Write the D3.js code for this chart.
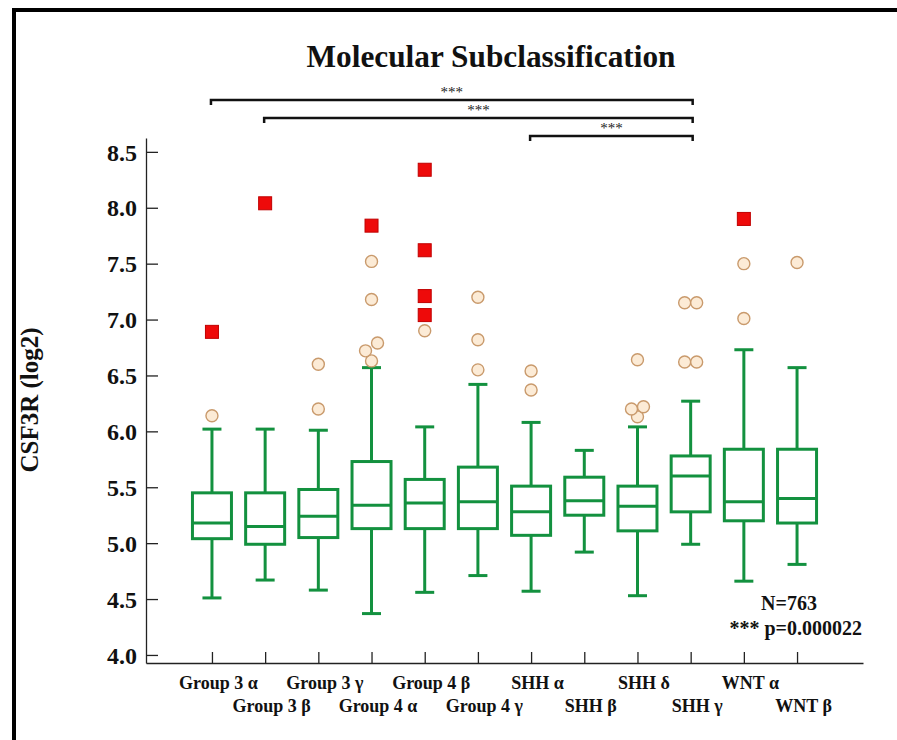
<!DOCTYPE html>
<html lang="en">
<head>
<meta charset="utf-8">
<title>CSF3R by molecular subclassification</title>
<script src="https://d3js.org/d3.v7.min.js"></script>
<style>
  body { margin: 0; background: #fff; }
  svg text { font-family: "Liberation Serif", "Times New Roman", serif; font-weight: bold; }
</style>
</head>
<body>
<svg width="897" height="740"></svg>
<script>
// categories and box statistics
const categories = ["Group 3 α", "Group 3 β", "Group 3 γ", "Group 4 α", "Group 4 β", "Group 4 γ",
                    "SHH α", "SHH β", "SHH δ", "SHH γ", "WNT α", "WNT β"];
const whiskerLow  = [4.51, 4.67, 4.58, 4.37, 4.56, 4.71, 4.57, 4.92, 4.53, 4.99, 4.66, 4.81];
const q1          = [5.04, 4.99, 5.05, 5.13, 5.13, 5.13, 5.07, 5.25, 5.11, 5.28, 5.20, 5.18];
const median      = [5.18, 5.15, 5.24, 5.34, 5.36, 5.37, 5.28, 5.38, 5.33, 5.60, 5.37, 5.40];
const q3          = [5.45, 5.45, 5.48, 5.73, 5.57, 5.68, 5.51, 5.59, 5.51, 5.78, 5.84, 5.84];
const whiskerHigh = [6.02, 6.02, 6.01, 6.57, 6.04, 6.42, 6.08, 5.83, 6.04, 6.27, 6.73, 6.57];
// open circles (outliers) and red squares (far outliers)
const outliers = [[6.14], [], [6.20, 6.60], [6.63, 6.72, 6.79, 7.18, 7.52], [6.90], [6.55, 6.82, 7.20],
                  [6.37, 6.54], [], [6.13, 6.20, 6.22, 6.64], [6.62, 6.62, 7.15, 7.15], [7.01, 7.50], [7.51]];
const extremes = [[6.89], [8.04], [], [7.84], [7.04, 7.21, 7.62, 8.34], [], [], [], [], [], [7.90], []];
const yTicks = [4.0, 4.5, 5.0, 5.5, 6.0, 6.5, 7.0, 7.5, 8.0, 8.5];
const comparisons = [["Group 3 α", "SHH γ"], ["Group 3 β", "SHH γ"], ["SHH α", "SHH γ"]];
const sigLabel = "***";

const svg = d3.select("svg");
const green = "#13913f";

// frame (top and left edges only, as in the scan)
svg.append("rect").attr("x", 12).attr("y", 8).attr("width", 885).attr("height", 4).attr("fill", "#000");
svg.append("rect").attr("x", 12).attr("y", 8).attr("width", 4).attr("height", 732).attr("fill", "#000");

const x = d3.scalePoint().domain(categories).range([146, 863]).padding(1.24);
const y = d3.scaleLinear().domain([3.928, 8.624]).range([663, 138]);

// axes
const yAxis = svg.append("g")
  .attr("transform", "translate(146,0)")
  .call(d3.axisLeft(y).tickValues(yTicks).tickFormat(d3.format(".1f"))
        .tickSizeInner(-12).tickSizeOuter(0).tickPadding(9));
yAxis.selectAll("text").style("font-size", "24px").attr("fill", "#111").attr("dy", "0.34em");

const xAxis = svg.append("g")
  .attr("transform", "translate(0,663)")
  .call(d3.axisBottom(x).tickSizeInner(-11).tickSizeOuter(0).tickPadding(0));
xAxis.selectAll("text")
  .style("font-size", "18px").attr("fill", "#111")
  .attr("dx", 6)
  .attr("dy", 0)
  .attr("y", (d, i) => i % 2 === 0 ? 26 : 49);
svg.selectAll(".domain, .tick line").attr("stroke", "#222").attr("stroke-width", 1.3);

// title and axis label
svg.append("text").attr("x", 491).attr("y", 67).attr("text-anchor", "middle")
  .attr("textLength", 369).attr("lengthAdjust", "spacingAndGlyphs")
  .style("font-size", "31px").attr("fill", "#111").text("Molecular Subclassification");
svg.append("text").attr("transform", "translate(38,400) rotate(-90)").attr("text-anchor", "middle")
  .style("font-size", "25px").attr("fill", "#111").text("CSF3R (log2)");

// boxes
const boxW = 39, capW = 19;
const boxes = svg.append("g").attr("stroke", green).attr("stroke-width", 3).attr("fill", "none");
categories.forEach((c, i) => {
  const cx = x(c);
  boxes.append("line").attr("x1", cx).attr("x2", cx).attr("y1", y(whiskerHigh[i])).attr("y2", y(q3[i]));
  boxes.append("line").attr("x1", cx).attr("x2", cx).attr("y1", y(q1[i])).attr("y2", y(whiskerLow[i]));
  boxes.append("line").attr("x1", cx - capW / 2).attr("x2", cx + capW / 2).attr("y1", y(whiskerHigh[i])).attr("y2", y(whiskerHigh[i]));
  boxes.append("line").attr("x1", cx - capW / 2).attr("x2", cx + capW / 2).attr("y1", y(whiskerLow[i])).attr("y2", y(whiskerLow[i]));
  boxes.append("rect").attr("x", cx - boxW / 2).attr("width", boxW)
    .attr("y", y(q3[i])).attr("height", y(q1[i]) - y(q3[i]));
  boxes.append("line").attr("x1", cx - boxW / 2).attr("x2", cx + boxW / 2).attr("y1", y(median[i])).attr("y2", y(median[i]));
});

// outlier circles, nudged sideways where they overlap
const r = 6, step = 6;
const pts = [];
categories.forEach((c, i) => {
  const vals = outliers[i].slice().sort((a, b) => a - b);
  let cluster = [];
  const flush = () => {
    const n = cluster.length;
    const pattern = n % 2 ? [0, -1, 1, -2, 2] : [-1, 1, -2, 2];
    cluster.forEach((v, k) => pts.push({ x: x(c) + pattern[k] * step, y: y(v) }));
    cluster = [];
  };
  vals.forEach(v => {
    if (cluster.length && y(cluster[cluster.length - 1]) - y(v) >= 12) flush();
    cluster.push(v);
  });
  flush();
});
svg.append("g").selectAll("circle").data(pts).join("circle")
  .attr("cx", d => d.x).attr("cy", d => d.y).attr("r", r)
  .attr("fill", "#fcebd6").attr("stroke", "#c99a6c").attr("stroke-width", 1.4);

const sq = 13;
const redPts = categories.flatMap((c, i) => extremes[i].map(v => ({ c, v })));
svg.append("g").selectAll("rect").data(redPts).join("rect")
  .attr("x", d => x(d.c) - sq / 2).attr("y", d => y(d.v) - sq / 2)
  .attr("width", sq).attr("height", sq)
  .attr("fill", "#ee0a0a").attr("stroke", "#c00000").attr("stroke-width", 1);

// significance brackets
const bracketY = [100, 118, 136];
comparisons.forEach((p, i) => {
  const x1 = x(p[0]) - 1, x2 = x(p[1]) + 2, by = bracketY[i];
  svg.append("path")
    .attr("d", `M${x1},${by + 5}V${by}H${x2}V${by + 5}`)
    .attr("fill", "none").attr("stroke", "#111").attr("stroke-width", 2.5);
  svg.append("text").attr("x", (x1 + x2) / 2).attr("y", by - 3).attr("text-anchor", "middle")
    .style("font-size", "15px").style("font-weight", "normal").attr("fill", "#222").text(sigLabel);
});

// sample size and p-value
svg.append("text").attr("x", 789).attr("y", 610).attr("text-anchor", "middle")
  .style("font-size", "20px").attr("fill", "#111").text("N=763");
svg.append("text").attr("x", 862).attr("y", 635).attr("text-anchor", "end")
  .style("font-size", "20px").attr("fill", "#111").text("*** p=0.000022");
</script>
</body>
</html>
